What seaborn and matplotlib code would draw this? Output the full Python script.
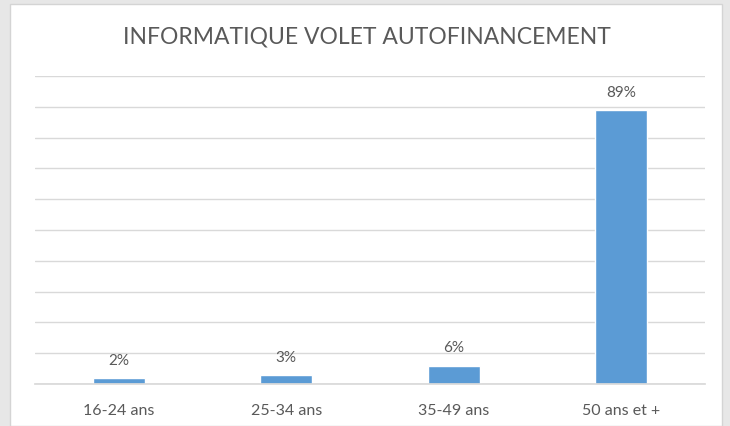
import matplotlib
matplotlib.use("Agg")
import matplotlib.pyplot as plt
from matplotlib.patches import Rectangle
import seaborn as sns
import pandas as pd

categories = ["16-24 ans", "25-34 ans", "35-49 ans", "50 ans et +"]
values = [2, 3, 6, 89]
value_labels = ["2%", "3%", "6%", "89%"]
title = "INFORMATIQUE VOLET AUTOFINANCEMENT"

sns.set_theme(style="white")
plt.rcParams['font.family'] = ['Lato', 'DejaVu Sans']

df = pd.DataFrame({"cat": categories, "val": values})

fig = plt.figure(figsize=(7.3, 4.27), dpi=100)
fig.patch.set_facecolor("#e7e7e7")
panel = Rectangle((10/730, 0), 712/730, 1 - 5/427, transform=fig.transFigure,
                  facecolor="white", edgecolor="#d4d4d4", linewidth=1, zorder=-5)
fig.patches.append(panel)

ax = fig.add_axes([35/730, 1 - 385/427, 670/730, (385 - 77)/427])
ax.set_facecolor("none")
sns.barplot(data=df, x="cat", y="val", color="#5B9BD5", width=0.31, ax=ax,
            saturation=1)
ax.set_ylim(0, 100)
ax.set_yticks(range(0, 101, 10))
ax.yaxis.grid(True, color="#d9d9d9", linewidth=1)
ax.set_axisbelow(True)
ax.tick_params(axis="y", left=False, labelleft=False)
ax.tick_params(axis="x", bottom=False, labelsize=11.5, labelcolor="#595959", pad=8)
for s in ["top", "right", "left"]:
    ax.spines[s].set_visible(False)
ax.spines["bottom"].set_color("#d9d9d9")
ax.set_xlabel("")
ax.set_ylabel("")
for i, (v, lab) in enumerate(zip(values, value_labels)):
    ax.annotate(lab, (i, v), xytext=(0, 8), textcoords="offset points",
                ha="center", va="bottom", fontsize=11, color="#595959")

fig.text(367/730, 1 - 37/427, title, ha="center", va="center",
         fontsize=16.5, color="#595959")

fig.savefig("out.png", dpi=100)
